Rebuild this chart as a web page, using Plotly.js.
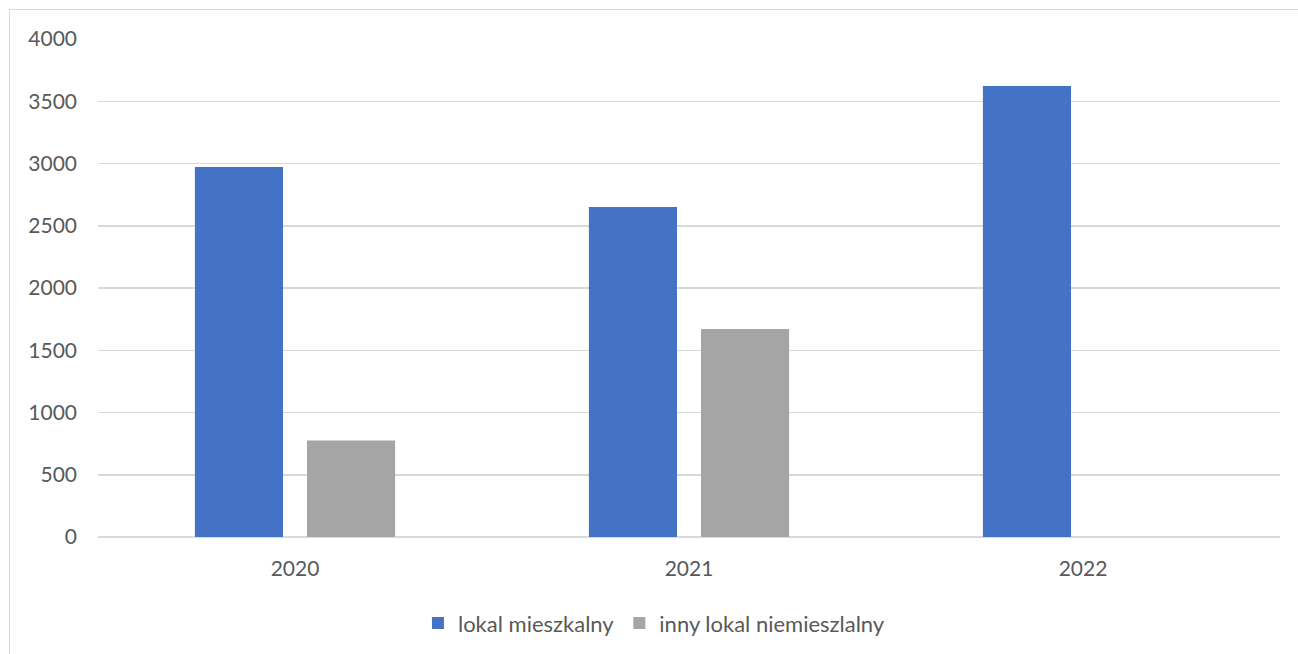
<!DOCTYPE html>
<html>
<head>
<meta charset="utf-8">
<script src="https://cdn.plot.ly/plotly-3.0.1.min.js"></script>
<style>
  html, body { margin: 0; padding: 0; background: #ffffff; overflow: hidden; }
  #chart { position: absolute; left: 0; top: 0; width: 1298px; height: 654px; }
  #frame { position: absolute; left: 9px; top: 9px; width: 1400px; height: 800px;
           border: 1px solid #d9d9d9; pointer-events: none; }
</style>
</head>
<body>
<div id="chart"></div>
<div id="frame"></div>
<script>
const categories = ['2020', '2021', '2022'];
const seriesNames = ['lokal mieszkalny', 'inny lokal niemieszlalny'];
const mieszkalny = [2972, 2651, 3622];
const niemieszkalny = [776, 1671, null];
const yTicks = [0, 500, 1000, 1500, 2000, 2500, 3000, 3500, 4000];

const FONT = 'Lato, "Open Sans", sans-serif';
const TXT = '#595959';
const GRID = '#d9d9d9';

const traces = [
  { type: 'bar', name: seriesNames[0], x: categories, y: mieszkalny,
    marker: { color: '#4472C4' }, hoverinfo: 'x+y' },
  { type: 'bar', name: seriesNames[1], x: categories, y: niemieszkalny,
    marker: { color: '#A5A5A5' }, hoverinfo: 'x+y' }
];

const layout = {
  width: 1298, height: 654,
  paper_bgcolor: '#ffffff', plot_bgcolor: '#ffffff',
  margin: { l: 98, r: 18, t: 39, b: 117 },
  barmode: 'group', bargap: 0.431, bargroupgap: 0.214,
  font: { family: FONT, size: 21, color: TXT },
  showlegend: true,
  legend: { orientation: 'h', xref: 'container', yref: 'container',
            x: 0.322, xanchor: 'left', y: 0.047, yanchor: 'middle',
            font: { family: FONT, size: 22, color: TXT },
            itemwidth: 30, traceorder: 'normal' },
  xaxis: { type: 'category', showgrid: false, showline: false, zeroline: false,
           ticks: '', ticklabelstandoff: 17,
           tickfont: { family: FONT, size: 21, color: TXT } },
  yaxis: { range: [0, 4000], tickvals: yTicks, ticktext: yTicks.map(String),
           showgrid: true, gridcolor: GRID, gridwidth: 1.5,
           zeroline: true, zerolinecolor: GRID, zerolinewidth: 1.5,
           showline: false, ticks: '', ticklabelstandoff: 20,
           tickfont: { family: FONT, size: 21, color: TXT } }
};

Plotly.newPlot('chart', traces, layout, { displayModeBar: false, staticPlot: true });
</script>
</body>
</html>
